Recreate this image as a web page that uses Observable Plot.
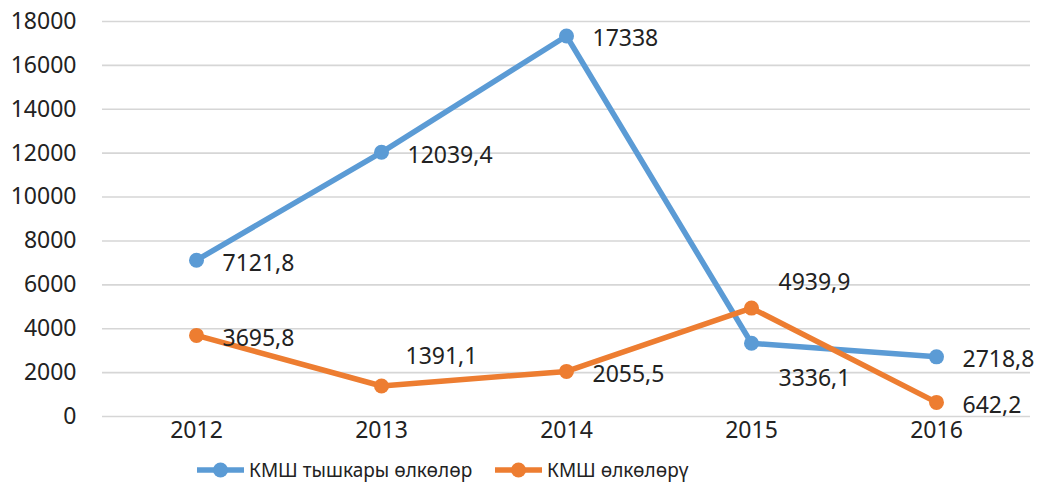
<!DOCTYPE html>
<html><head><meta charset="utf-8">
<script src="https://cdn.jsdelivr.net/npm/d3@7"></script>
<script src="https://cdn.jsdelivr.net/npm/@observablehq/plot@0.6"></script>
<style>
body{margin:0;background:#fff;font-family:"Noto Sans",sans-serif;}
#chart svg{display:block;}
#legend{position:relative;height:35px;font-size:19px;color:#222;}
.item{position:absolute;top:2px;display:flex;align-items:center;height:35px;}
.item svg{margin-right:5px;}
</style></head><body>
<div id="chart"></div>
<div id="legend"></div>
<script>
const years = ["2012", "2013", "2014", "2015", "2016"];
const outsideCIS = [7121.8, 12039.4, 17338, 3336.1, 2718.8];
const insideCIS = [3695.8, 1391.1, 2055.5, 4939.9, 642.2];
const seriesNames = ["КМШ тышкары өлкөлөр", "КМШ өлкөлөрү"];
const seriesColors = ["#5B9BD5", "#ED7D31"];
const yTicks = [0, 2000, 4000, 6000, 8000, 10000, 12000, 14000, 16000, 18000];

const rows = [];
[outsideCIS, insideCIS].forEach((vals, s) => {
  vals.forEach((v, i) => rows.push({year: years[i], value: v, series: seriesNames[s], s, i}));
});
const fmt = v => String(v).replace(".", ",");

// label placement rules (code, not data)
const above = r => (r.s === 1 && (r.i === 1 || r.i === 3));
const below = r => (r.s === 0 && r.i === 3);
const normal = r => !above(r) && !below(r);

const textOpts = {x: "year", y: "value", text: d => fmt(d.value), textAnchor: "start", fill: "#222", fontSize: 23};

const chart = Plot.plot({
  width: 1038,
  height: 450,
  marginLeft: 102,
  marginRight: 8,
  marginTop: 21,
  marginBottom: 34,
  style: {fontFamily: "'Noto Sans', sans-serif", fontSize: "23px", color: "#222", background: "#fff"},
  x: {type: "point", domain: years, padding: 0.5, label: null, tickSize: 0, tickPadding: 5},
  y: {domain: [0, 18000], ticks: yTicks, label: null, tickSize: 0, tickPadding: 26, tickFormat: d => String(d)},
  color: {domain: seriesNames, range: seriesColors},
  marks: [
    Plot.ruleY(yTicks, {stroke: "#d6d6d6", strokeWidth: 1.6}),
    Plot.line(rows, {x: "year", y: "value", stroke: "series", strokeWidth: 5.5, strokeLinejoin: "round"}),
    Plot.dot(rows, {x: "year", y: "value", fill: "series", r: 7.5}),
    Plot.text(rows.filter(normal), {...textOpts, dx: 26, dy: 3}),
    Plot.text(rows.filter(r => above(r) && r.i === 1), {...textOpts, dx: 24, dy: -29}),
    Plot.text(rows.filter(r => above(r) && r.i === 3), {...textOpts, dx: 27, dy: -25}),
    Plot.text(rows.filter(below), {...textOpts, dx: 27, dy: 35})
  ]
});
document.getElementById("chart").appendChild(chart);

const legend = document.getElementById("legend");
const legendX = [197, 495];
seriesNames.forEach((name, k) => {
  const item = document.createElement("div");
  item.className = "item";
  item.style.left = legendX[k] + "px";
  item.innerHTML = `<svg width="47" height="20"><line x1="1" x2="46" y1="10" y2="10" stroke="${seriesColors[k]}" stroke-width="5.5" stroke-linecap="round"/><circle cx="23.5" cy="10" r="7.5" fill="${seriesColors[k]}"/></svg><span>${name}</span>`;
  legend.appendChild(item);
});
</script>
</body></html>
